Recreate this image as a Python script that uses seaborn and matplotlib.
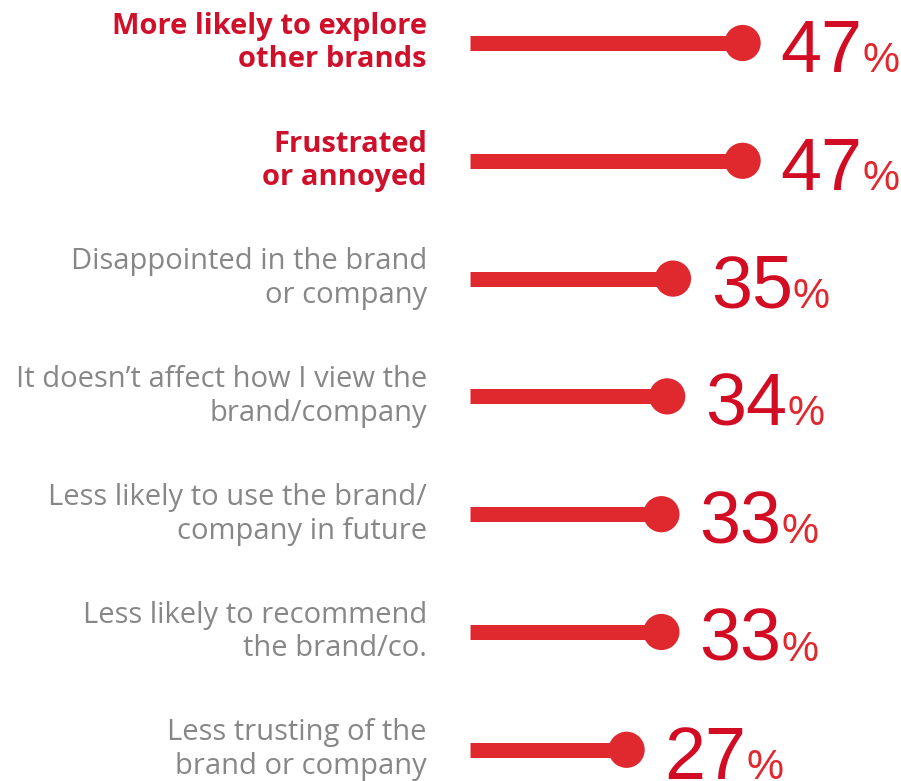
import matplotlib
matplotlib.use("Agg")
import matplotlib.pyplot as plt
import seaborn as sns
import pandas as pd

# data
labels = [
    "More likely to explore\nother brands",
    "Frustrated\nor annoyed",
    "Disappointed in the brand\nor company",
    "It doesn\u2019t affect how I view the\nbrand/company",
    "Less likely to use the brand/\ncompany in future",
    "Less likely to recommend\nthe brand/co.",
    "Less trusting of the\nbrand or company",
]
values = [47, 47, 35, 34, 33, 33, 27]
highlight = [True, True, False, False, False, False, False]

df = pd.DataFrame({"label": labels, "value": values, "highlight": highlight})
df["row"] = range(len(df))

stem_red = "#E0282F"
num_red = "#D20C23"
label_red = "#D0102A"
grey = "#878787"

sns.set_theme(style="white")
plt.rcParams["font.family"] = ["Open Sans", "DejaVu Sans"]

fig = plt.figure(figsize=(9.01, 7.81), dpi=100)
ax = fig.add_axes([0, 0, 1, 1])

# 0 sits at x=470px, ~5.8px per point
ax.set_xlim(-81.03, 74.31)
ax.set_ylim(6.265, -0.365)
ax.axis("off")

ax.hlines(df["row"], 0, df["value"], color=stem_red, linewidth=10.8, capstyle="butt")
sns.scatterplot(data=df, x="value", y="row", ax=ax, color=stem_red, s=680,
                edgecolor="none", legend=False, zorder=3)

for _, r in df.iterrows():
    if r["highlight"]:
        ax.annotate(r["label"], xy=(0, r["row"]), xytext=(-43, 0), textcoords="offset pixels",
                    ha="right", va="center", fontsize=21, fontweight="bold",
                    color=label_red, linespacing=1.2)
    else:
        ax.annotate(r["label"], xy=(0, r["row"]), xytext=(-43, 0), textcoords="offset pixels",
                    ha="right", va="center", fontsize=21, color=grey, linespacing=1.22)

    num = ax.annotate(str(r["value"]), xy=(r["value"], r["row"]), xytext=(38, -29),
                      textcoords="offset pixels", ha="left", va="baseline",
                      fontsize=53, color=num_red, family="Liberation Sans")
    ax.annotate("%", xy=(1, r["row"]), xycoords=(num, "data"), xytext=(0, -29),
                textcoords="offset pixels", ha="left", va="baseline",
                fontsize=30, color=stem_red, family="Liberation Sans")

fig.savefig("out.png", dpi=100)
